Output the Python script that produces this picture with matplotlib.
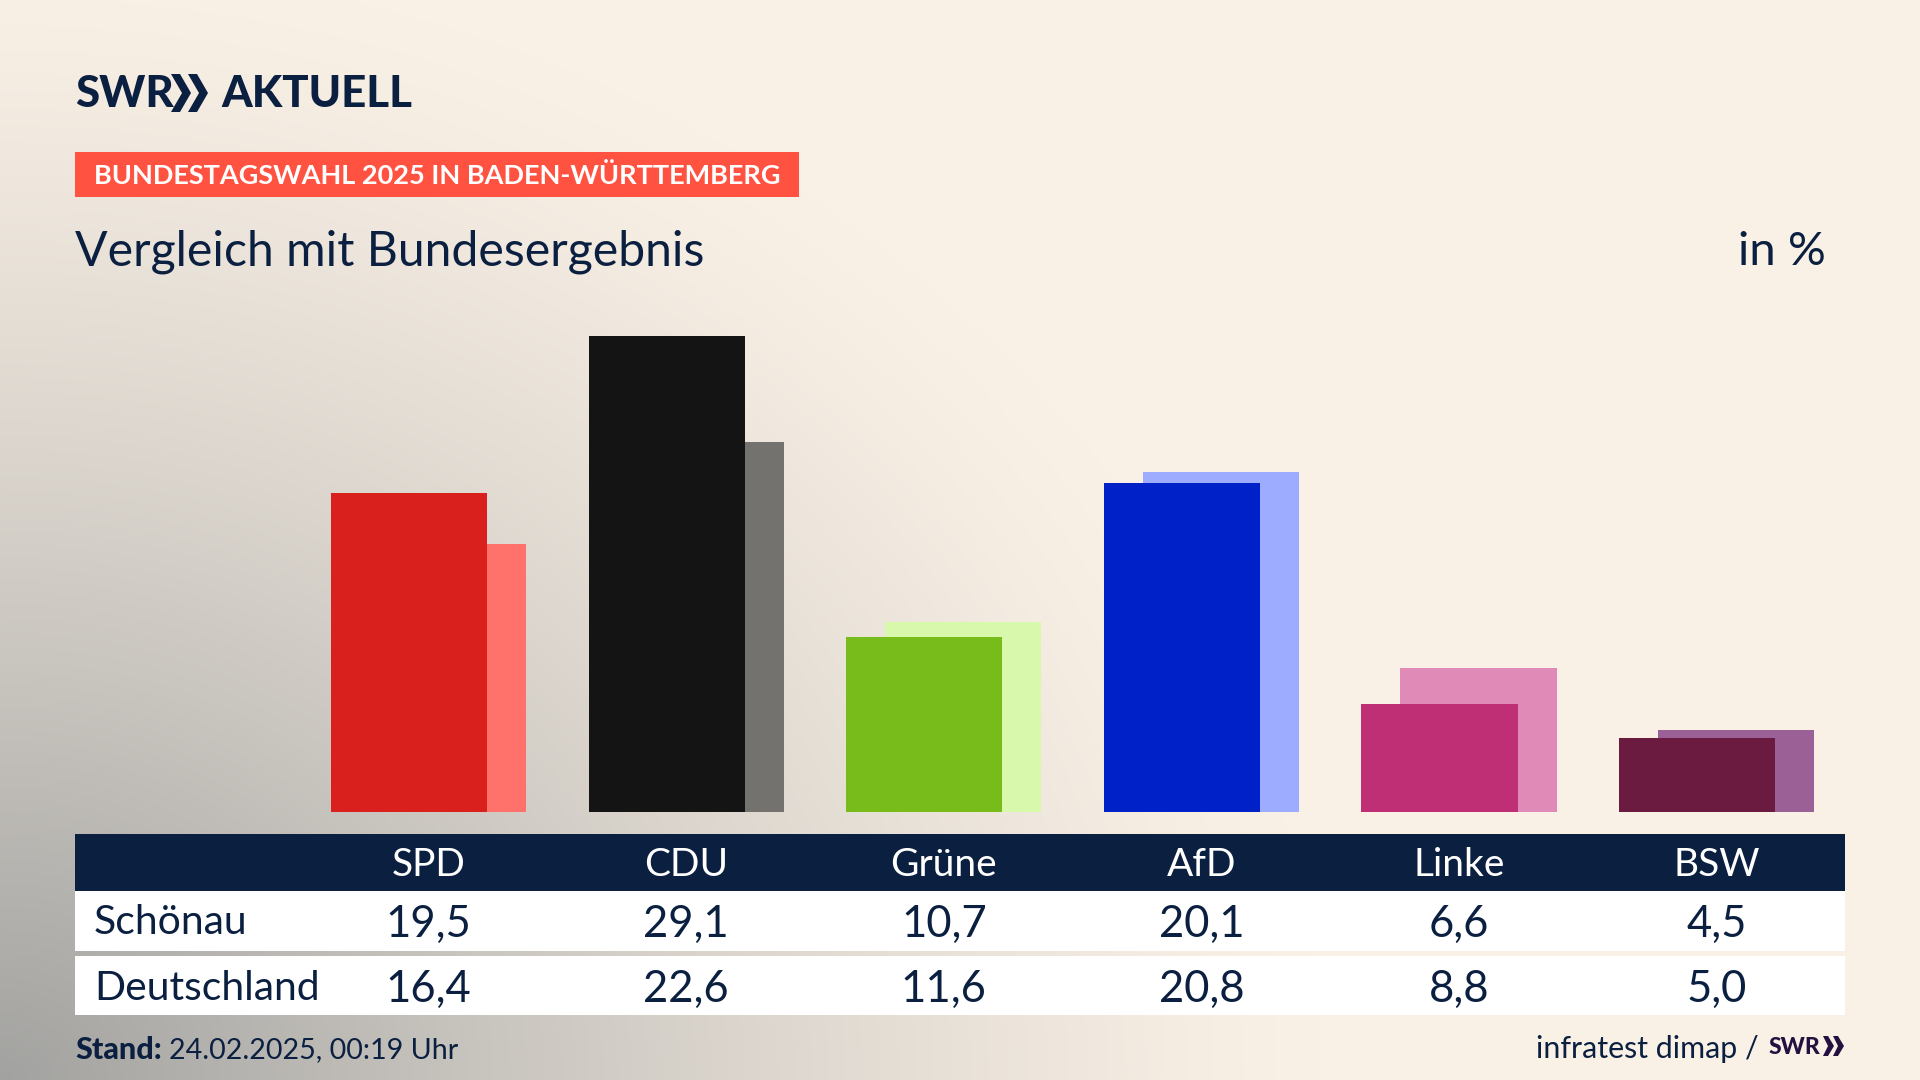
import numpy as np
import matplotlib
matplotlib.use("Agg")
import matplotlib.pyplot as plt
from matplotlib.patches import Rectangle, Polygon

parties = ["SPD", "CDU", "Grüne", "AfD", "Linke", "BSW"]
schoenau = [19.5, 29.1, 10.7, 20.1, 6.6, 4.5]
deutschland = [16.4, 22.6, 11.6, 20.8, 8.8, 5.0]
main_colors = ["#D9201C", "#141414", "#78BC1B", "#0020C8", "#BE2F75", "#6B1A40"]
light_colors = ["#FF726B", "#74726F", "#D8F8AB", "#9EACFF", "#E08AB8", "#9B6096"]
row_names = ["Schönau", "Deutschland"]

W, H = 1920, 1080
NAVY = "#0B2040"
FONT = "Lato"
plt.rcParams["font.family"] = [FONT, "DejaVu Sans"]

fig = plt.figure(figsize=(W / 100, H / 100), dpi=100)

# overlay in pixel coordinates
bg = fig.add_axes([0, 0, 1, 1])
bg.set_xlim(0, W)
bg.set_ylim(H, 0)
bg.axis("off")

yy, xx = np.mgrid[0:H, 0:W]
r = np.sqrt((xx / 1320.0) ** 2 + ((H - yy) / 1120.0) ** 2)
t = np.clip(1 - r, 0, 1) ** 1.25
cream = np.array([250, 241, 230]) / 255
grey = np.array([162, 162, 160]) / 255
img = cream[None, None, :] * (1 - t[..., None]) + grey[None, None, :] * t[..., None]
bg.imshow(img, extent=(0, W, H, 0), aspect="auto", zorder=0, interpolation="bilinear")


def label(x, y, s, size, color=NAVY, ha="left", weight="normal"):
    bg.text(x, y, s, fontsize=size, color=color, ha=ha, va="center", fontweight=weight, zorder=5)


# logo
label(75, 94, "SWR", 31.5, weight="black")
for dx in (0, 17):
    bg.add_patch(Polygon([(171 + dx, 74), (180 + dx, 74), (191 + dx, 93), (180 + dx, 112), (171 + dx, 112), (182 + dx, 93)],
                         closed=True, fc=NAVY, ec="none", zorder=5))
label(221, 94, "AKTUELL", 31.5, weight="black")

# tag and headings
bg.add_patch(Rectangle((75, 152), 724, 45, fc="#FF5240", ec="none", zorder=3))
label(94, 176, "BUNDESTAGSWAHL 2025 IN BADEN-WÜRTTEMBERG", 19.5, color="white", weight="bold")
label(75, 252, "Vergleich mit Bundesergebnis", 34.7)
label(1826, 252, "in %", 34, ha="right")

# table
bg.add_patch(Rectangle((75, 834), 1770, 57, fc=NAVY, ec="none", zorder=3))
bg.add_patch(Rectangle((75, 891), 1770, 60, fc="white", ec="none", zorder=3))
bg.add_patch(Rectangle((75, 956), 1770, 59, fc="white", ec="none", zorder=3))

# bars
left_px, step = 299.8, 257.6
bottom_px, unit = 812, 16.37
ymax = 30
ax = fig.add_axes([left_px / W, (H - bottom_px) / H, 6 * step / W, ymax * unit / H])
ax.set_xlim(-0.5, 5.5)
ax.set_ylim(0, ymax)
ax.axis("off")
ax.patch.set_alpha(0)
x = np.arange(len(parties))
bw, off = 0.6056, 0.0757
ax.bar(x + off, deutschland, width=bw, color=light_colors, zorder=1)
ax.bar(x - off, schoenau, width=bw, color=main_colors, zorder=2)

for i, p in enumerate(parties):
    cx = left_px + (i + 0.5) * step
    label(cx, 865, p, 28, color="white", ha="center")
    label(cx, 924, f"{schoenau[i]:.1f}".replace(".", ","), 31.4, ha="center")
    label(cx, 989, f"{deutschland[i]:.1f}".replace(".", ","), 31.4, ha="center")
label(94, 923, row_names[0], 29.4)
label(94, 988, row_names[1], 29.4)

# footer
label(75, 1050, "Stand:", 22, weight="black")
label(169, 1050, "24.02.2025, 00:19 Uhr", 20.6)
label(1759, 1049, "infratest dimap /", 21.9, ha="right")
label(1769, 1047, "SWR", 16.5, color="#24113F", weight="black")
for dx in (0, 10):
    bg.add_patch(Polygon([(1823 + dx, 1036), (1828 + dx, 1036), (1834 + dx, 1046), (1828 + dx, 1056), (1823 + dx, 1056), (1828 + dx, 1046)],
                         closed=True, fc="#24113F", ec="none", zorder=5))

fig.savefig("out.png", dpi=100)
